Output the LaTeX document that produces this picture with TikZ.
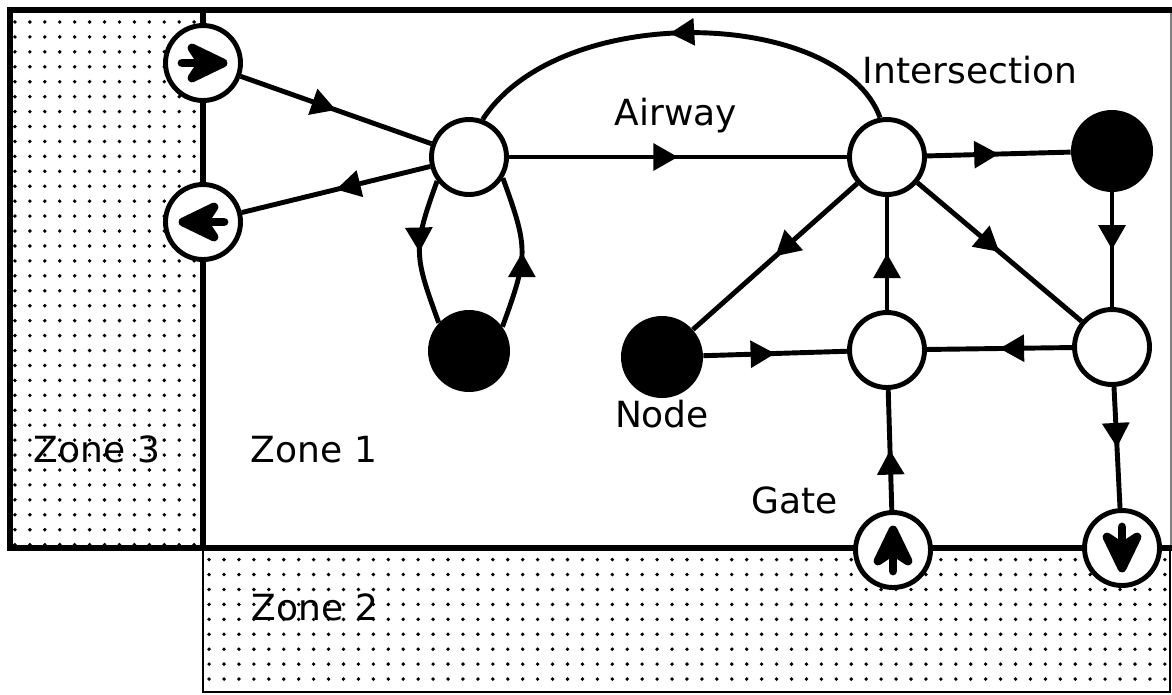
\documentclass[tikz,border=0pt]{standalone}
\usepackage{fontspec}
\setmainfont{DejaVu Sans}
\usetikzlibrary{arrows.meta, decorations.markings, patterns.meta}

\tikzset{
  waypoint/.style={circle, draw, line width=2.8pt, fill=white, minimum size=1.5cm, inner sep=0pt},
  fixpoint/.style={circle, fill=black, minimum size=1.64cm, inner sep=0pt},
  gatepoint/.style={waypoint},
  airway/.style={line width=2.8pt, postaction={decorate},
    decoration={markings, mark=at position #1 with {\arrow{Triangle[length=14pt,width=15pt]}}}},
  airway/.default=0.5,
  zone/.style={pattern={Dots[distance=8.5pt, radius=1.1pt]}},
  zonetext/.style={font=\fontsize{20.5}{24}\selectfont, anchor=base, inner sep=0pt},
  gatearrow/.pic={
    \draw[line width=5pt, line cap=round] (-21,0) -- (4,0);
    \filldraw[line width=5pt, line join=round] (20,0) -- (-11,15) -- (-1,0) -- (-11,-15) -- cycle;
  }
}

\begin{document}
\begin{tikzpicture}[x=0.02cm, y=0.02cm]
            \useasboundingbox (0,0) rectangle (1172,-694);
            \path[zone] (10,-10) rectangle (203,-548);
            \path[zone] (203,-548) rectangle (1170,-692);
            \draw[line width=1.1pt] (203,-548) -- (203,-692) -- (1170,-692) -- (1170,-548);
            \draw[line width=0.6pt, gray] (1171,-10) -- (1171,-548);
            \draw[line width=3.2pt] (1172,-10) -- (10,-10) -- (10,-548) -- (1172,-548);
            \draw[line width=3.2pt] (203,-10) -- (203,-548);

            \node[zonetext] (zone3) at (97,-462) {Zone 3};
            \node[zonetext] (zone1) at (314,-462) {Zone 1};
            \node[zonetext] (zone2) at (315,-620) {Zone 2};

            \node[gatepoint] (gin) at (203,-63) {};
            \node[gatepoint] (gout) at (203,-222) {};
            \node[waypoint] (a) at (469,-157) {};
            \node[fixpoint] (b) at (469,-351) {};
            \node[waypoint] (c) at (887,-157) {};
            \node[fixpoint] (d) at (1112,-151) {};
            \node[waypoint] (e) at (887,-350) {};
            \node[waypoint] (f) at (1112,-347) {};
            \node[fixpoint] (n) at (662,-357) {};
            \node[gatepoint] (gup) at (893,-550) {};
            \node[gatepoint] (gdown) at (1122,-548) {};

            \pic at (gin.center) {gatearrow};
            \pic[rotate=180] at (gout.center) {gatearrow};
            \pic[rotate=90] at (gup.center) {gatearrow};
            \pic[rotate=-90] at (gdown.center) {gatearrow};

            \draw[airway] (gin) -- (a);
            \draw[airway] (a) -- (gout);
            \draw[airway] (a) -- (c);
            \draw[airway=0.53] (c.100) .. controls (840,-8) and (560,0) .. (a.70);
            \draw[airway] (a.217) to[out=250, in=110, looseness=1.3] (b.137);
            \draw[airway] (b.36) to[out=70, in=290, looseness=1.3] (a.328);
            \draw[airway] (c) -- (d);
            \draw[airway] (d) -- (f);
            \draw[airway] (c) -- (n);
            \draw[airway] (c) -- (f);
            \draw[airway] (e) -- (c);
            \draw[airway] (n) -- (e);
            \draw[airway] (f) -- (e);
            \draw[airway] (f) -- (gdown);
            \draw[airway] (gup) -- (e);

            \node[zonetext] (intersection) at (970,-83) {Intersection};
            \node[zonetext] (airway) at (676,-125) {Airway};
            \node[zonetext] (nodetext) at (662,-427) {Node};
            \node[zonetext] (gate) at (795,-513) {Gate};
        \end{tikzpicture}
\end{document}
